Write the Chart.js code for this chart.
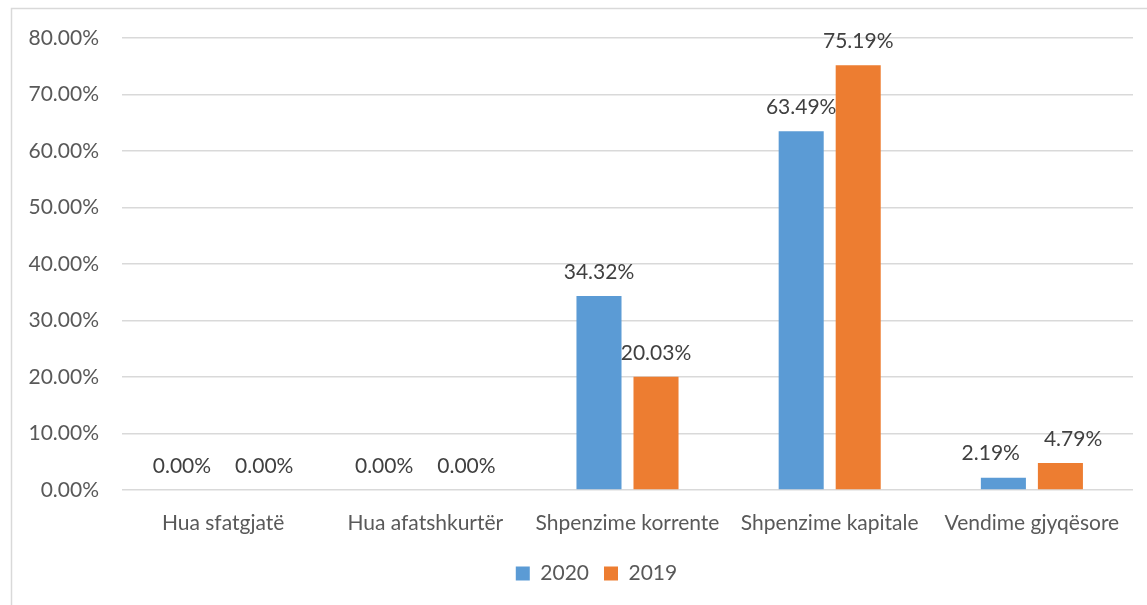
<!DOCTYPE html>
<html>
<head>
<meta charset="utf-8">
<script src="https://cdn.jsdelivr.net/npm/chart.js@4.4.1/dist/chart.umd.min.js"></script>
<style>
  html, body { margin: 0; padding: 0; background: #fff; }
  #wrap { width: 1147px; height: 605px; position: relative; }
</style>
</head>
<body>
<div id="wrap"><canvas id="budgetChart"></canvas></div>
<script>
// Data
const categories = ['Hua sfatgjatë', 'Hua afatshkurtër', 'Shpenzime korrente', 'Shpenzime kapitale', 'Vendime gjyqësore'];
const values2020 = [0, 0, 34.32, 63.49, 2.19];
const values2019 = [0, 0, 20.03, 75.19, 4.79];
const seriesNames = ['2020', '2019'];
const yMax = 80;
const yStep = 10;

const textColor = '#595959';
const fontFamily = 'Lato, "Open Sans", sans-serif';

// White background + light frame around the picture
const frame = {
    id: 'frame',
    beforeDraw(chart) {
        const c = chart.ctx;
        c.save();
        c.fillStyle = '#fff';
        c.fillRect(0, 0, chart.width, chart.height);
        c.strokeStyle = '#D9D9D9';
        c.lineWidth = 1.5;
        c.strokeRect(11.5, 8.5, chart.width + 20, chart.height + 20);
        c.restore();
    }
};

// nudge the legend a bit right of the canvas centre
const legendShift = {
    id: 'legendShift',
    afterLayout(chart) {
        const lg = chart.legend;
        lg.left += 30;
        lg.right += 30;
    }
};

// Value labels above bars, pushed apart when two in a group collide
const valueLabels = {
    id: 'valueLabels',
    afterDatasetsDraw(chart) {
        const c = chart.ctx;
        c.save();
        c.font = '21px ' + fontFamily;
        c.fillStyle = '#404040';
        c.textAlign = 'center';
        c.textBaseline = 'middle';
        const metaA = chart.getDatasetMeta(0).data;
        const metaB = chart.getDatasetMeta(1).data;
        const dsA = chart.data.datasets[0].data;
        const dsB = chart.data.datasets[1].data;
        metaA.forEach((barA, j) => {
            const barB = metaB[j];
            const tA = dsA[j].toFixed(2) + '%';
            const tB = dsB[j].toFixed(2) + '%';
            let xA = barA.x, xB = barB.x;
            const yA = barA.y - 24, yB = barB.y - 24;
            const need = (c.measureText(tA).width + c.measureText(tB).width) / 2 + 24;
            if (Math.abs(yA - yB) < 22 && xB - xA < need) {
                const push = (need - (xB - xA)) / 2;
                xA -= push;
                xB += push;
            }
            c.fillText(tA, xA, yA);
            c.fillText(tB, xB, yB);
        });
        c.restore();
    }
};

const ctx = document.getElementById('budgetChart').getContext('2d');
const budgetChart = new Chart(ctx, {
    type: 'bar',
    data: {
        labels: categories,
        datasets: [{
            label: seriesNames[0],
            data: values2020,
            backgroundColor: '#5B9BD5',
            categoryPercentage: 0.564,
            barPercentage: 0.79
        }, {
            label: seriesNames[1],
            data: values2019,
            backgroundColor: '#ED7D31',
            categoryPercentage: 0.564,
            barPercentage: 0.79
        }]
    },
    options: {
        responsive: true,
        maintainAspectRatio: false,
        animation: false,
        layout: {
            padding: { left: 0, right: 14, top: 38, bottom: 11 }
        },
        scales: {
            x: {
                grid: { display: false },
                border: { display: false },
                ticks: {
                    color: textColor,
                    font: { family: fontFamily, size: 21 },
                    padding: 13,
                    maxRotation: 0,
                    autoSkip: false
                },
                afterFit(scale) { scale.height = 58; }
            },
            y: {
                min: 0,
                max: yMax,
                grid: { color: '#D9D9D9', lineWidth: 1.5, drawTicks: false },
                border: { display: false },
                ticks: {
                    stepSize: yStep,
                    color: textColor,
                    font: { family: fontFamily, size: 21 },
                    padding: 23,
                    callback: v => v.toFixed(2) + '%'
                },
                afterFit(scale) { scale.width = 122; }
            }
        },
        plugins: {
            legend: {
                position: 'bottom',
                labels: {
                    boxWidth: 14,
                    boxHeight: 14,
                    padding: 15,
                    color: textColor,
                    font: { family: fontFamily, size: 21 }
                }
            },
            tooltip: { enabled: false }
        }
    },
    plugins: [frame, legendShift, valueLabels]
});
</script>
</body>
</html>
